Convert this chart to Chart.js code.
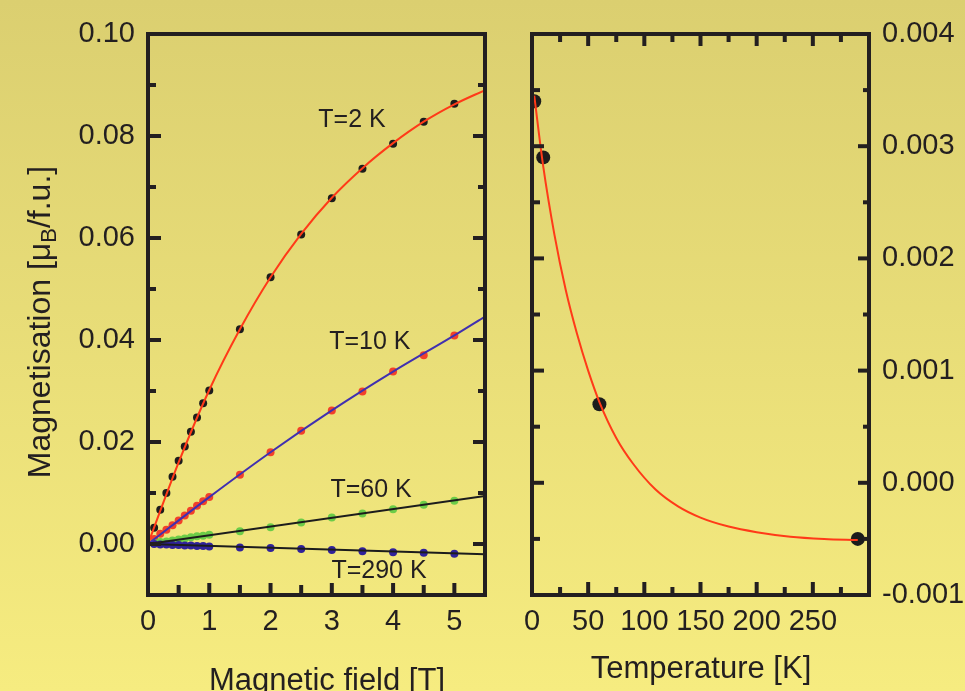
<!DOCTYPE html>
<html>
<head>
<meta charset="utf-8">
<script src="https://cdn.jsdelivr.net/npm/chart.js@4.4.1/dist/chart.umd.min.js"></script>
<style>
  html, body { margin: 0; padding: 0; }
  body { width: 965px; height: 691px; overflow: hidden; position: relative;
         background: linear-gradient(#dbcf70, #f6ec80); }
  canvas { position: absolute; top: 0; }
  #left { left: 0; }
  #right { left: 505px; }
</style>
</head>
<body>
<canvas id="left" width="505" height="691"></canvas>
<canvas id="right" width="460" height="691"></canvas>
<script>
/* ---- data ---- */
// left panel: M(B) at four temperatures
const field = [0.1, 0.2, 0.3, 0.4, 0.5, 0.6, 0.7, 0.8, 0.9, 1.0, 1.5, 2, 2.5, 3, 3.5, 4, 4.5, 5];
const m2K   = [0.0032, 0.0067, 0.0100, 0.0132, 0.0163, 0.0191, 0.0220, 0.0248, 0.0276, 0.0301, 0.0421, 0.0523, 0.0607, 0.0678, 0.0736, 0.0785, 0.0828, 0.0863];
const m10K  = [0.0010, 0.0020, 0.0028, 0.0037, 0.0046, 0.0056, 0.0065, 0.0075, 0.0084, 0.0092, 0.0136, 0.0180, 0.0222, 0.0262, 0.0299, 0.0338, 0.0370, 0.0409];
const m60K  = [0.0002, 0.0004, 0.0005, 0.0007, 0.0009, 0.0011, 0.0013, 0.0015, 0.0016, 0.0018, 0.0025, 0.0033, 0.0042, 0.0052, 0.0060, 0.0068, 0.0077, 0.0085];
const m290K = [0.0000, -0.0001, -0.0001, -0.0002, -0.0002, -0.0003, -0.0003, -0.0004, -0.0004, -0.0005, -0.0007, -0.0008, -0.0010, -0.0012, -0.0014, -0.0016, -0.0017, -0.0019];

// fitted curves (left)
const fit2KB = [0, 0.5, 1, 1.5, 2, 2.5, 3, 3.5, 4, 4.5, 5, 5.5];
const fit2KM = [0, 0.0160, 0.0302, 0.0421, 0.0523, 0.0608, 0.0679, 0.0737, 0.0786, 0.0828, 0.0862, 0.0890];
const fit10KB = [0, 1, 2, 3, 4, 5, 5.5];
const fit10KM = [0, 0.0092, 0.0180, 0.0262, 0.0338, 0.0409, 0.0446];
const fitLineB = [0, 5.5];
const fit60KM  = [0, 0.0094];
const fit290KM = [0, -0.0020];

// right panel: moment vs temperature
const tempPts   = [2, 10, 60, 290];
const momentPts = [0.0034, 0.0029, 0.0007, -0.0005];
const fitT = [2, 10, 20, 30, 40, 50, 60, 75, 90, 110, 130, 150, 175, 200, 230, 260, 290];
const fitM = [0.00345, 0.00282, 0.00221, 0.00172, 0.00133, 0.00100, 0.00072, 0.00040, 0.00017, -0.00006, -0.00021, -0.00031, -0.00039, -0.00044, -0.00048, -0.00050, -0.00051];

// tick labels
const fieldTicks  = [0, 1, 2, 3, 4, 5];
const magTicks    = [0.00, 0.02, 0.04, 0.06, 0.08, 0.10];
const tempTicks   = [0, 50, 100, 150, 200, 250];
const momentTicks = [-0.001, 0.000, 0.001, 0.002, 0.003, 0.004];

const curveLabels = [
  { text: 'T=2 K',   x: 3.33, y: 0.0832 },
  { text: 'T=10 K',  x: 3.62, y: 0.0396 },
  { text: 'T=60 K',  x: 3.64, y: 0.0106 },
  { text: 'T=290 K', x: 3.77, y: -0.0053 }
];

/* ---- style ---- */
const FONT = "'Liberation Sans', Arial, Helvetica, sans-serif";
const INK = '#231f20';
const RED = '#ff3a18';
Chart.defaults.font.family = FONT;
Chart.defaults.color = INK;

const xy = (xs, ys) => xs.map((x, i) => ({ x, y: ys[i] }));
const near = (a, b) => Math.abs(a - b) < 1e-9;

function pts(data, color, r) {
  return { type: 'scatter', data, backgroundColor: color, borderWidth: 0, pointRadius: r, clip: 0 };
}
function line(data, color, smooth) {
  return { type: 'line', data, borderColor: color, borderWidth: 2, pointRadius: 0, fill: false,
           tension: smooth ? 0.4 : 0, cubicInterpolationMode: smooth ? 'monotone' : 'default', clip: 0 };
}
function axisTicks(values, fmt, pad) {
  return {
    afterBuildTicks: s => { s.ticks = values.map(v => ({ value: v })); },
    grid: { display: false, drawTicks: false },
    border: { display: false },
    ticks: { autoSkip: false, maxRotation: 0, padding: pad, color: INK, font: { size: 29 }, callback: fmt }
  };
}

// frame with inward ticks; sides = { left: {step, major, maj, min}, ... }
function framePlugin(sides, extra) {
  return {
    id: 'frame',
    afterDatasetsDraw(chart) {
      const { ctx, chartArea: a, scales } = chart;
      ctx.save();
      ctx.strokeStyle = INK;
      ctx.lineWidth = 4;
      ctx.lineCap = 'butt';
      for (const side in sides) {
        const s = sides[side];
        const sc = (side === 'left' || side === 'right') ? scales[s.axis] : scales.x;
        const lo = sc.min, hi = sc.max;
        for (let k = 0; lo + k * s.step <= hi + 1e-9; k++) {
          const v = lo + k * s.step;
          const isMajor = s.major.some(m => near(m, v));
          const len = isMajor ? s.maj : s.min;
          const p = sc.getPixelForValue(v);
          ctx.beginPath();
          if (side === 'left')   { ctx.moveTo(a.left, p);  ctx.lineTo(a.left + len, p); }
          if (side === 'right')  { ctx.moveTo(a.right, p); ctx.lineTo(a.right - len, p); }
          if (side === 'top')    { ctx.moveTo(p, a.top);    ctx.lineTo(p, a.top + len); }
          if (side === 'bottom') { ctx.moveTo(p, a.bottom); ctx.lineTo(p, a.bottom - len); }
          ctx.stroke();
        }
      }
      ctx.lineJoin = 'miter';
      ctx.strokeRect(a.left, a.top, a.right - a.left, a.bottom - a.top);
      ctx.restore();
      if (extra) extra(chart);
    }
  };
}

/* ---- left panel ---- */
function leftText(chart) {
  const { ctx, scales: { x, y } } = chart;
  ctx.save();
  ctx.fillStyle = INK;
  ctx.textAlign = 'center';
  ctx.textBaseline = 'middle';
  ctx.font = '25px ' + FONT;
  curveLabels.forEach(l => ctx.fillText(l.text, x.getPixelForValue(l.x), y.getPixelForValue(l.y)));

  ctx.textBaseline = 'alphabetic';
  ctx.font = '31px ' + FONT;
  ctx.fillText('Magnetic field [T]', 327, 690);

  // rotated y title with subscript B
  const big = '32px ' + FONT, small = '22px ' + FONT;
  const p1 = 'Magnetisation [\u03bc', p2 = 'B', p3 = '/f.u.]';
  ctx.font = big; const w1 = ctx.measureText(p1).width, w3 = ctx.measureText(p3).width;
  ctx.font = small; const w2 = ctx.measureText(p2).width;
  const total = w1 + w2 + w3;
  ctx.translate(50, 322);
  ctx.rotate(-Math.PI / 2);
  ctx.textAlign = 'left';
  let cx = -total / 2;
  ctx.font = big;   ctx.fillText(p1, cx, 0); cx += w1;
  ctx.font = small; ctx.fillText(p2, cx, 6); cx += w2;
  ctx.font = big;   ctx.fillText(p3, cx, 0);
  ctx.restore();
}

new Chart(document.getElementById('left'), {
  type: 'scatter',
  data: {
    datasets: [
      line(xy(fit2KB, fit2KM), RED, true),
      line(xy(fit10KB, fit10KM), '#4030b0', true),
      line(xy(fitLineB, fit60KM), '#1c1c1c'),
      line(xy(fitLineB, fit290KM), '#1c1c1c'),
      pts(xy(field, m290K), '#30229a', 4),
      pts(xy(field, m60K), '#6ccc48', 4),
      pts(xy(field, m10K), '#f2402a', 4),
      pts(xy(field, m2K), '#1c1c1c', 4)
    ]
  },
  options: {
    responsive: false,
    animation: false,
    events: [],
    layout: { padding: { top: 34, right: 20, left: 0, bottom: 0 } },
    plugins: { legend: { display: false }, tooltip: { enabled: false } },
    scales: {
      x: Object.assign(axisTicks(fieldTicks, v => String(v), 10), {
        min: 0, max: 5.5, afterFit: s => { s.height = 96; }
      }),
      y: Object.assign(axisTicks(magTicks, v => v.toFixed(2), 13), {
        min: -0.01, max: 0.10, afterFit: s => { s.width = 148; }
      })
    }
  },
  plugins: [framePlugin({
    left:   { axis: 'y', step: 0.01, major: magTicks, maj: 13, min: 8 },
    right:  { axis: 'y', step: 0.01, major: magTicks, maj: 12, min: 7 },
    bottom: { step: 0.5, major: fieldTicks, maj: 12, min: 10 }
  }, leftText)]
});

/* ---- right panel ---- */
function rightText(chart) {
  const { ctx } = chart;
  ctx.save();
  ctx.fillStyle = INK;
  ctx.textAlign = 'center';
  ctx.font = '31px ' + FONT;
  ctx.fillText('Temperature [K]', 196, 678);
  ctx.restore();
}

new Chart(document.getElementById('right'), {
  type: 'scatter',
  data: {
    datasets: [
      line(xy(fitT, fitM), RED, true),
      pts(xy(tempPts, momentPts), '#1c1c1c', 7)
    ]
  },
  options: {
    responsive: false,
    animation: false,
    events: [],
    layout: { padding: { top: 34, right: 0, left: 27, bottom: 0 } },
    plugins: { legend: { display: false }, tooltip: { enabled: false } },
    scales: {
      x: Object.assign(axisTicks(tempTicks, v => String(v), 10), {
        min: 0, max: 300, afterFit: s => { s.height = 96; }
      }),
      y: Object.assign(axisTicks(momentTicks, v => v.toFixed(3), 13), {
        position: 'right', min: -0.001, max: 0.004, afterFit: s => { s.width = 96; }
      })
    }
  },
  plugins: [framePlugin({
    left:   { axis: 'y', step: 0.0005, major: momentTicks, maj: 12, min: 8 },
    right:  { axis: 'y', step: 0.0005, major: momentTicks, maj: 11, min: 6 },
    top:    { step: 25, major: tempTicks, maj: 12, min: 8 },
    bottom: { step: 25, major: tempTicks, maj: 13, min: 8 }
  }, rightText)]
});
</script>
</body>
</html>
